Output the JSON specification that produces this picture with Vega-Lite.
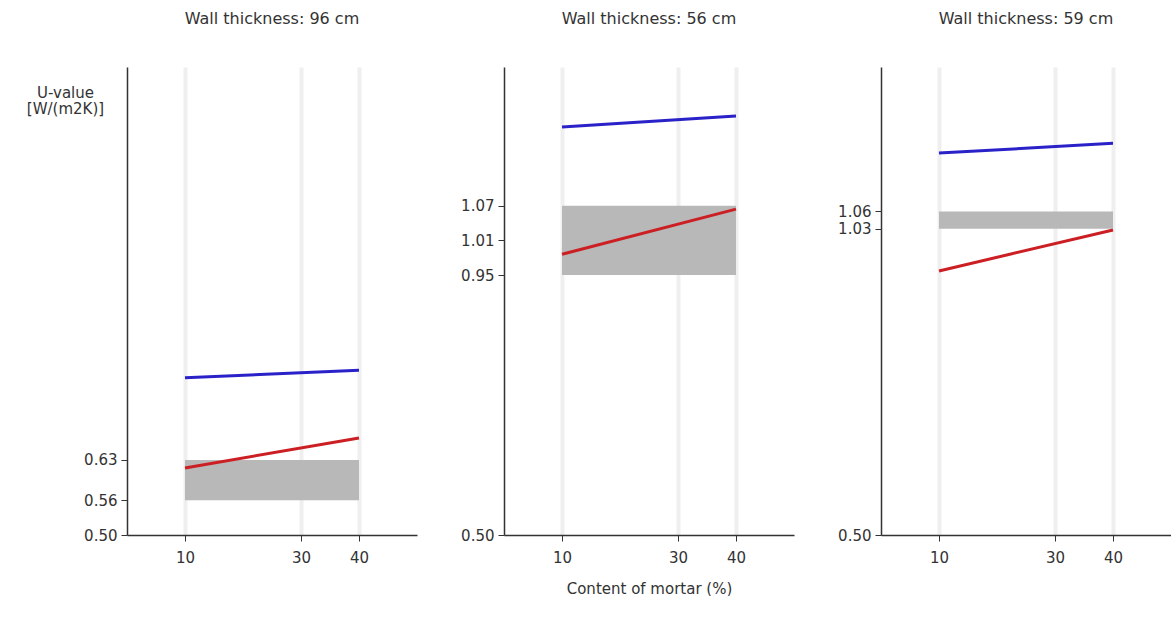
{
  "$schema": "https://vega.github.io/schema/vega-lite/v6.json",
  "padding": {"left": 26, "top": 11, "right": 0, "bottom": 0},
  "background": "white",
  "config": {
    "font": "DejaVu Sans",
    "view": {"stroke": null},
    "axis": {
      "labelFont": "DejaVu Sans",
      "labelFontSize": 15,
      "labelColor": "#333",
      "domainColor": "#333",
      "domainWidth": 1.5,
      "tickColor": "#333",
      "tickSize": 6,
      "titleFont": "DejaVu Sans",
      "titleFontSize": 15,
      "titleFontWeight": "normal",
      "titleColor": "#333"
    },
    "title": {"font": "DejaVu Sans", "fontSize": 16, "fontWeight": "normal", "color": "#333", "offset": 40, "anchor": "middle"},
    "concat": {"spacing": 87}
  },
  "bounds": "flush",
  "datasets": {
    "lines": [
      {"wall": "96", "series": "blue", "mortar": 10, "u": 0.772},
      {"wall": "96", "series": "blue", "mortar": 40, "u": 0.785},
      {"wall": "96", "series": "red", "mortar": 10, "u": 0.616},
      {"wall": "96", "series": "red", "mortar": 40, "u": 0.668},
      {"wall": "56", "series": "blue", "mortar": 10, "u": 1.206},
      {"wall": "56", "series": "blue", "mortar": 40, "u": 1.225},
      {"wall": "56", "series": "red", "mortar": 10, "u": 0.986},
      {"wall": "56", "series": "red", "mortar": 40, "u": 1.064},
      {"wall": "59", "series": "blue", "mortar": 10, "u": 1.161},
      {"wall": "59", "series": "blue", "mortar": 40, "u": 1.178},
      {"wall": "59", "series": "red", "mortar": 10, "u": 0.957},
      {"wall": "59", "series": "red", "mortar": 40, "u": 1.028}
    ],
    "bands": [
      {"wall": "96", "x1": 10, "x2": 40, "lo": 0.56, "hi": 0.63},
      {"wall": "56", "x1": 10, "x2": 40, "lo": 0.95, "hi": 1.07},
      {"wall": "59", "x1": 10, "x2": 40, "lo": 1.03, "hi": 1.06}
    ]
  },
  "hconcat": [
    {
      "width": 290,
      "height": 468,
      "title": "Wall thickness: 96 cm",
      "layer": [
        {
          "data": {"name": "bands"},
          "transform": [{"filter": "datum.wall == '96'"}],
          "mark": {"type": "rect", "color": "#b8b8b8"},
          "encoding": {
            "x": {"field": "x1", "type": "quantitative", "scale": {"domain": [0, 50], "nice": false},
              "axis": {"values": [10, 30, 40], "title": null, "grid": true, "gridColor": "#efefef", "gridWidth": 4, "labelPadding": 9}},
            "x2": {"field": "x2"},
            "y": {"field": "lo", "type": "quantitative", "scale": {"domain": [0.5, 1.31], "nice": false, "zero": false},
              "axis": {"values": [0.5, 0.56, 0.63], "format": ".2f", "grid": false, "labelPadding": 4,
                "title": ["U-value", "[W/(m2K)]"], "titleAngle": 0, "titleAlign": "center", "titleBaseline": "middle", "titleX": -62, "titleY": 25, "titleLineHeight": 16}},
            "y2": {"field": "hi"}
          }
        },
        {
          "data": {"name": "lines"},
          "transform": [{"filter": "datum.wall == '96'"}],
          "mark": {"type": "line", "strokeWidth": 3},
          "encoding": {
            "x": {"field": "mortar", "type": "quantitative"},
            "y": {"field": "u", "type": "quantitative"},
            "detail": {"field": "series"},
            "color": {"field": "series", "type": "nominal", "scale": {"domain": ["blue", "red"], "range": ["#2a22c8", "#cc1f24"]}, "legend": null}
          }
        }
      ]
    },
    {
      "width": 290,
      "height": 468,
      "title": "Wall thickness: 56 cm",
      "layer": [
        {
          "data": {"name": "bands"},
          "transform": [{"filter": "datum.wall == '56'"}],
          "mark": {"type": "rect", "color": "#b8b8b8"},
          "encoding": {
            "x": {"field": "x1", "type": "quantitative", "scale": {"domain": [0, 50], "nice": false},
              "axis": {"values": [10, 30, 40], "title": "Content of mortar (%)", "titlePadding": 16, "grid": true, "gridColor": "#efefef", "gridWidth": 4, "labelPadding": 9}},
            "x2": {"field": "x2"},
            "y": {"field": "lo", "type": "quantitative", "scale": {"domain": [0.5, 1.31], "nice": false, "zero": false},
              "axis": {"values": [0.5, 0.95, 1.01, 1.07], "format": ".2f", "grid": false, "labelPadding": 4, "title": null}},
            "y2": {"field": "hi"}
          }
        },
        {
          "data": {"name": "lines"},
          "transform": [{"filter": "datum.wall == '56'"}],
          "mark": {"type": "line", "strokeWidth": 3},
          "encoding": {
            "x": {"field": "mortar", "type": "quantitative"},
            "y": {"field": "u", "type": "quantitative"},
            "detail": {"field": "series"},
            "color": {"field": "series", "type": "nominal", "scale": {"domain": ["blue", "red"], "range": ["#2a22c8", "#cc1f24"]}, "legend": null}
          }
        }
      ]
    },
    {
      "width": 290,
      "height": 468,
      "title": "Wall thickness: 59 cm",
      "layer": [
        {
          "data": {"name": "bands"},
          "transform": [{"filter": "datum.wall == '59'"}],
          "mark": {"type": "rect", "color": "#b8b8b8"},
          "encoding": {
            "x": {"field": "x1", "type": "quantitative", "scale": {"domain": [0, 50], "nice": false},
              "axis": {"values": [10, 30, 40], "title": null, "grid": true, "gridColor": "#efefef", "gridWidth": 4, "labelPadding": 9}},
            "x2": {"field": "x2"},
            "y": {"field": "lo", "type": "quantitative", "scale": {"domain": [0.5, 1.31], "nice": false, "zero": false},
              "axis": {"values": [0.5, 1.03, 1.06], "format": ".2f", "grid": false, "labelPadding": 4, "title": null}},
            "y2": {"field": "hi"}
          }
        },
        {
          "data": {"name": "lines"},
          "transform": [{"filter": "datum.wall == '59'"}],
          "mark": {"type": "line", "strokeWidth": 3},
          "encoding": {
            "x": {"field": "mortar", "type": "quantitative"},
            "y": {"field": "u", "type": "quantitative"},
            "detail": {"field": "series"},
            "color": {"field": "series", "type": "nominal", "scale": {"domain": ["blue", "red"], "range": ["#2a22c8", "#cc1f24"]}, "legend": null}
          }
        }
      ]
    }
  ]
}
